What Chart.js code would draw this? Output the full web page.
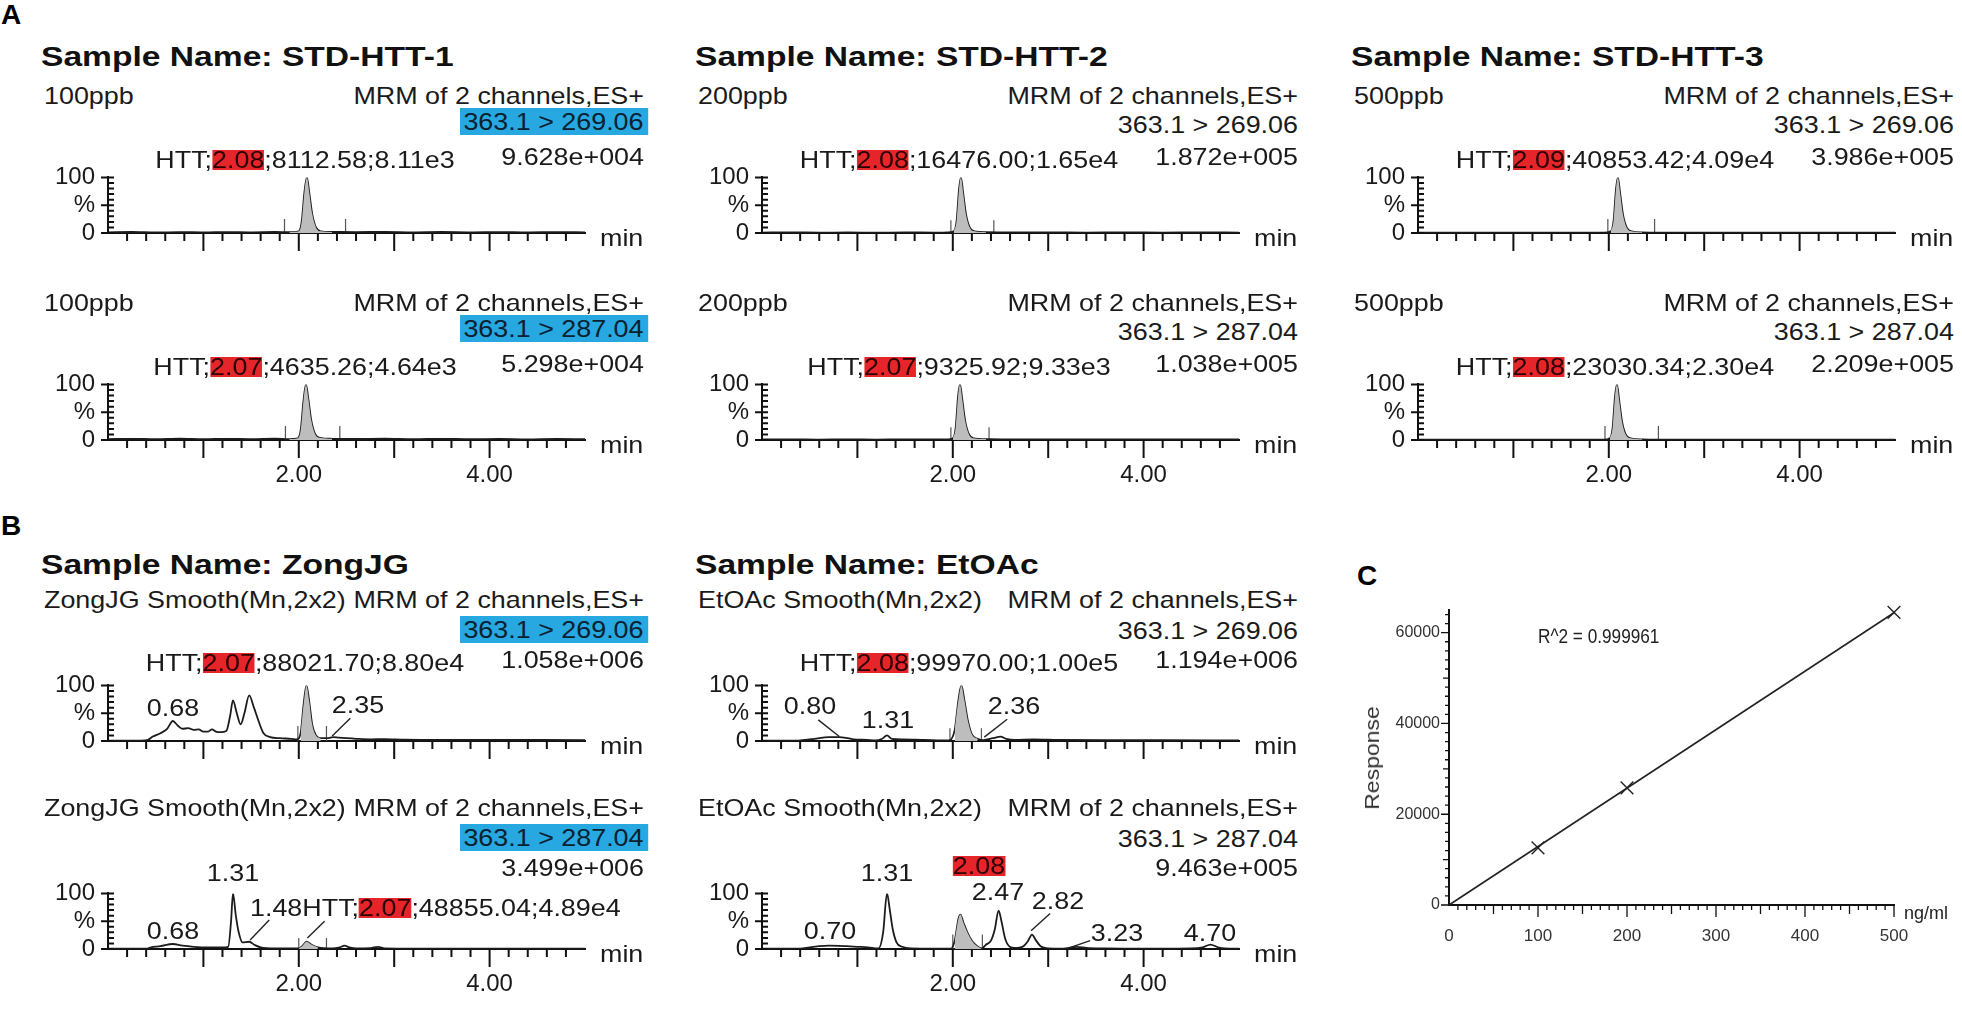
<!DOCTYPE html>
<html>
<head>
<meta charset="utf-8">
<script src="https://cdn.jsdelivr.net/npm/chart.js@4.4.1/dist/chart.umd.min.js"></script>
<style>
html,body{margin:0;padding:0;background:#fff;}
body{width:1962px;height:1016px;position:relative;overflow:hidden;font-family:"Liberation Sans",Arial,Helvetica,sans-serif;color:#1a1a1a;}
.t{position:absolute;white-space:nowrap;}
.red{background:#e6252b;color:#2b0000;display:inline-block;line-height:20px;}
.blue{background:#27a8e0;color:#0b2030;display:inline-block;line-height:27px;padding:0 4px 0 3px;}
canvas{position:absolute;}
</style>
</head>
<body>
<script>
// ---------------- DATA ----------------
const sampleTitles = ["Sample Name: STD-HTT-1","Sample Name: STD-HTT-2","Sample Name: STD-HTT-3","Sample Name: ZongJG","Sample Name: EtOAc"];
const leftHeaders = ["100ppb","200ppb","500ppb","ZongJG Smooth(Mn,2x2)","EtOAc Smooth(Mn,2x2)"];
const channelHeader = "MRM of 2 channels,ES+";
const transitions = ["363.1 > 269.06","363.1 > 287.04"];
const maxIntensity = ["9.628e+004","5.298e+004","1.872e+005","1.038e+005","3.986e+005","2.209e+005","1.058e+006","3.499e+006","1.194e+006","9.463e+005"];
const xTickLabels = [2, 4];
const yTickLabels = [[0, "0"], [50, "%"], [100, "100"]];

// HTT peak info: [retention time, area, height]
const htt_STD1_269 = ["2.08","8112.58","8.11e3"];
const htt_STD1_287 = ["2.07","4635.26","4.64e3"];
const htt_STD2_269 = ["2.08","16476.00","1.65e4"];
const htt_STD2_287 = ["2.07","9325.92","9.33e3"];
const htt_STD3_269 = ["2.09","40853.42","4.09e4"];
const htt_STD3_287 = ["2.08","23030.34","2.30e4"];
const htt_Zong_269 = ["2.07","88021.70","8.80e4"];
const htt_Zong_287 = ["2.07","48855.04","4.89e4"];
const htt_EtOAc_269 = ["2.08","99970.00","1.00e5"];
const htt_EtOAc_287 = ["2.08"];

// chromatogram traces: [time (min), relative intensity (%)]
const trace_STD1_269 = [[0,1.2],[0.25,1.8],[0.5,1.0],[0.75,1.6],[1.0,1.1],[1.25,1.7],[1.5,1.2],[1.75,1.8],[1.9,1.4],[2.0,3],[2.03,20],[2.06,75],[2.085,100],[2.11,72],[2.14,35],[2.18,10],[2.23,3],[2.35,2],[2.6,1.6],[2.9,2.0],[3.2,1.3],[3.5,1.8],[3.8,1.2],[4.1,1.7],[4.4,1.1],[4.7,1.6],[5.0,1.2]];
const trace_STD1_287 = [[0,1.5],[0.25,2.2],[0.5,1.4],[0.75,2.4],[1.0,1.5],[1.25,2.1],[1.5,1.6],[1.75,2.3],[1.9,1.6],[1.99,3],[2.02,18],[2.05,72],[2.075,100],[2.10,74],[2.13,36],[2.17,11],[2.22,4],[2.35,2.2],[2.6,1.8],[2.9,2.4],[3.2,1.5],[3.5,2.2],[3.8,1.4],[4.1,2.0],[4.4,1.3],[4.7,1.9],[5.0,1.4]];
const trace_STD2_269 = [[0,0.8],[0.3,1.1],[0.6,0.7],[0.9,1.0],[1.2,0.7],[1.5,1.0],[1.8,0.8],[1.95,0.9],[2.01,3],[2.04,22],[2.065,78],[2.085,100],[2.11,70],[2.14,32],[2.18,9],[2.23,3],[2.35,1.5],[2.6,1.0],[3.0,1.2],[3.4,0.8],[3.8,1.1],[4.2,0.8],[4.6,1.0],[5.0,0.8]];
const trace_STD2_287 = [[0,0.9],[0.3,1.3],[0.6,0.8],[0.9,1.2],[1.2,0.8],[1.5,1.2],[1.8,0.9],[1.95,1.0],[2.0,3],[2.03,22],[2.055,78],[2.075,100],[2.10,72],[2.13,34],[2.17,10],[2.22,3],[2.35,1.6],[2.6,1.1],[3.0,1.3],[3.4,0.9],[3.8,1.2],[4.2,0.9],[4.6,1.1],[5.0,0.9]];
const trace_STD3_269 = [[0,0.5],[0.4,0.7],[0.8,0.5],[1.2,0.7],[1.6,0.5],[1.95,0.6],[2.02,3],[2.05,22],[2.075,78],[2.095,100],[2.12,70],[2.15,32],[2.19,9],[2.24,3],[2.35,1.2],[2.6,0.8],[3.0,0.6],[3.5,0.7],[4.0,0.5],[4.5,0.6],[5.0,0.5]];
const trace_STD3_287 = [[0,0.5],[0.4,0.7],[0.8,0.5],[1.2,0.7],[1.6,0.5],[1.95,0.6],[2.01,3],[2.04,22],[2.065,78],[2.085,100],[2.11,70],[2.14,32],[2.18,9],[2.23,3],[2.35,1.2],[2.6,0.8],[3.0,0.6],[3.5,0.7],[4.0,0.5],[4.5,0.6],[5.0,0.5]];
const trace_Zong_269 = [[0,0.5],[0.35,0.5],[0.42,2],[0.47,8],[0.55,14],[0.62,22],[0.68,36],[0.73,28],[0.78,22],[0.84,23],[0.90,20],[0.95,21],[1.00,17],[1.05,17],[1.09,21],[1.13,17],[1.18,16],[1.24,18],[1.28,45],[1.31,73],[1.35,50],[1.39,30],[1.43,50],[1.48,82],[1.53,60],[1.58,35],[1.63,14],[1.70,7],[1.80,5],[1.92,4],[1.98,3],[2.02,15],[2.05,65],[2.08,100],[2.11,70],[2.14,30],[2.18,10],[2.23,5],[2.30,5],[2.36,7],[2.42,6],[2.50,5],[2.60,4],[2.75,3],[2.90,3.5],[3.1,2.5],[3.5,2],[4.0,2],[4.5,1.8],[5.0,1.5]];
const trace_Zong_287 = [[0,0.5],[0.40,0.5],[0.45,3],[0.55,5],[0.68,9],[0.78,6],[0.90,4],[1.05,3],[1.20,3],[1.26,4],[1.29,50],[1.31,100],[1.34,60],[1.37,30],[1.41,12],[1.48,13],[1.54,7],[1.60,3],[1.75,1],[2.00,1],[2.04,6],[2.08,13],[2.13,8],[2.20,3],[2.35,1],[2.43,3],[2.48,6],[2.53,3],[2.60,1],[2.75,1.5],[2.83,4],[2.90,1],[3.2,0.5],[4.0,0.5],[5.0,0.5]];
const trace_EtOAc_269 = [[0,0.5],[0.35,0.5],[0.45,2],[0.55,4],[0.70,7],[0.81,7],[0.90,5],[0.96,3],[1.10,2],[1.19,1],[1.26,4],[1.31,10],[1.36,4],[1.48,3],[1.70,2],[1.96,1],[2.02,20],[2.06,75],[2.09,100],[2.12,75],[2.16,35],[2.20,12],[2.26,4],[2.32,1.5],[2.42,5],[2.50,8],[2.56,4],[2.65,2],[2.85,3],[3.1,2],[3.6,1.5],[4.2,1.5],[5.0,1]];
const trace_EtOAc_287 = [[0,0.5],[0.40,0.5],[0.50,3],[0.60,5],[0.70,6],[0.89,5],[1.00,4],[1.11,3],[1.22,1],[1.27,30],[1.31,100],[1.34,70],[1.37,36],[1.41,12],[1.47,4],[1.56,1],[1.80,0.5],[1.98,0.5],[2.02,15],[2.06,55],[2.08,62],[2.11,48],[2.15,31],[2.20,15],[2.25,6],[2.30,1],[2.35,8],[2.40,15],[2.44,35],[2.48,69],[2.51,50],[2.55,18],[2.61,3],[2.68,2],[2.74,5],[2.79,15],[2.83,26],[2.87,16],[2.92,5],[3.0,1],[3.14,0.5],[3.22,2],[3.30,4],[3.40,2],[3.60,1],[4.0,0.5],[4.5,1],[4.62,3],[4.70,8],[4.78,3],[4.85,1],[5.0,0.5]];

// integration limit markers: [start, end, height %]
const marks_STD1_269 = [1.85, 2.49, 25];
const marks_STD1_287 = [1.86, 2.43, 25];
const marks_STD2_269 = [1.98, 2.43, 23];
const marks_STD2_287 = [1.98, 2.38, 23];
const marks_STD3_269 = [1.99, 2.48, 25];
const marks_STD3_287 = [1.96, 2.52, 25];
const marks_Zong_269 = [1.99, 2.29, 27];
const marks_Zong_287 = [2.00, 2.29, 20];
const marks_EtOAc_269 = [1.97, 2.30, 23];
const marks_EtOAc_287 = [2.00, 2.31, 26];

// peak labels: [time, level %, text]
const peaks_Zong_269 = [[0.68, 60, "0.68"], [2.62, 64, "2.35"]];
const peaks_Zong_287 = [[1.31, 137, "1.31"], [0.68, 33, "0.68"]];
const peaks_EtOAc_269 = [[0.50, 63, "0.80"], [1.32, 37, "1.31"], [2.64, 63, "2.36"]];
const peaks_EtOAc_287 = [[0.71, 33, "0.70"], [1.31, 137, "1.31"], [2.47, 102, "2.47"], [3.10, 86, "2.82"], [3.72, 29, "3.23"], [4.70, 29, "4.70"]];
// leader lines: [t1, v1, t2, v2]
const leaders_Zong_269 = [[2.54, 41, 2.35, 9]];
const leaders_Zong_287 = [[1.69, 52, 1.49, 16], [2.27, 50, 2.09, 20]];
const leaders_EtOAc_269 = [[0.59, 38, 0.81, 8], [2.57, 39, 2.33, 7]];
const leaders_EtOAc_287 = [[3.02, 64, 2.82, 33], [3.44, 15, 3.22, 2]];

// calibration curve (C)
const calConc = [100, 200, 500];
const calResponse = [12600, 25800, 64500];
const fitConc = [0, 500];
const fitResponse = [0, 64400];
const rSquaredText = "R^2 = 0.999961";
const calYTicks = [0, 20000, 40000, 60000];
const calXTicks = [0, 100, 200, 300, 400, 500];

// ---------------- LAYOUT / HELPERS ----------------
Chart.defaults.font.family = '"Liberation Sans", Arial, Helvetica, sans-serif';
Chart.defaults.color = '#1a1a1a';
const SX = 1.12;

function txt(segments, x, y, opt) {
  opt = opt || {};
  const d = document.createElement('div');
  d.className = 't';
  const size = opt.size || 24, lh = opt.lh || 28;
  d.style.fontSize = size + 'px';
  d.style.lineHeight = lh + 'px';
  if (opt.bold) d.style.fontWeight = 'bold';
  if (opt.color) d.style.color = opt.color;
  if (typeof segments === 'string') segments = [{t: segments}];
  segments.forEach(s => {
    const sp = document.createElement('span');
    sp.textContent = s.t;
    if (s.cls) sp.className = s.cls;
    d.appendChild(sp);
  });
  d.style.left = x + 'px';
  d.style.top = (y - lh / 2) + 'px';
  const sx = opt.sx || SX;
  const align = opt.align || 'left';
  if (opt.rotate) {
    d.style.transformOrigin = '50% 50%';
    d.style.transform = `translate(-50%,0) rotate(-90deg) scaleX(${sx})`;
  } else if (align === 'left') {
    d.style.transformOrigin = '0 50%';
    d.style.transform = `scaleX(${sx})`;
  } else if (align === 'right') {
    d.style.transformOrigin = '100% 50%';
    d.style.transform = `translateX(-100%) scaleX(${sx})`;
  } else {
    d.style.transformOrigin = '50% 50%';
    d.style.transform = `translateX(-50%) scaleX(${sx})`;
  }
  document.body.appendChild(d);
  return d;
}

// axis tick-mark plugin (ticks given in axis units, drawn through the chart's scales)
function makeTickPlugin(xTicks, yTicks, lw) {
  return {
    id: 'customTicks',
    afterDraw(chart) {
      const ctx = chart.ctx, xs = chart.scales.x, ys = chart.scales.y;
      const y0 = ys.getPixelForValue(0), x0 = xs.getPixelForValue(0);
      ctx.save();
      ctx.strokeStyle = '#111';
      ctx.lineWidth = lw;
      ctx.beginPath();
      xTicks.forEach(([v, len]) => {
        const px = xs.getPixelForValue(v);
        ctx.moveTo(px, y0); ctx.lineTo(px, y0 + len);
      });
      yTicks.forEach(([v, len]) => {
        const py = ys.getPixelForValue(v);
        ctx.moveTo(x0, py); ctx.lineTo(x0 + len, py);
      });
      ctx.stroke();
      ctx.restore();
    }
  };
}

const colX = [0, 654, 1310];
const rowY = [0, 207, 508, 716];
const rowText = {
  A: {l1: 96, l2blue: 121.5, l2plain: 125, l3: 157, httV: 131},
  B: {l1: 92, l2blue: 121.5, l2plain: 123, l3: 152, httV: 140}
};

function toPts(arr) { return arr.map(([x, y]) => ({x, y})); }

function chromatogram(p) {
  const dx = colX[p.col], dy = rowY[p.row];
  const rt = rowText[p.row < 2 ? 'A' : 'B'];
  const L = dx + 30, T = dy + 150, W = 600, H = 140;
  const cv = document.createElement('canvas');
  cv.width = W; cv.height = H;
  cv.style.left = L + 'px'; cv.style.top = T + 'px';
  cv.style.width = W + 'px'; cv.style.height = H + 'px';
  document.body.appendChild(cv);

  const pts = toPts(p.trace);
  const fillPts = pts.filter(q => q.x >= p.marks[0] && q.x <= p.marks[1]);
  const ds = [
    {data: fillPts, showLine: true, borderWidth: 0, borderColor: 'rgba(0,0,0,0)', backgroundColor: '#bdbdbd', fill: 'origin', pointRadius: 0, cubicInterpolationMode: 'monotone'},
    {data: pts, showLine: true, borderColor: '#1c1c1c', borderWidth: 1.8, fill: false, pointRadius: 0, cubicInterpolationMode: 'monotone'}
  ];
  [p.marks[0], p.marks[1]].forEach(m => ds.push({data: [{x: m, y: 0}, {x: m, y: p.marks[2]}], showLine: true, borderColor: '#555', borderWidth: 1.2, pointRadius: 0, fill: false}));
  (p.leaders || []).forEach(([a, b, c, d]) => ds.push({data: [{x: a, y: b}, {x: c, y: d}], showLine: true, borderColor: '#222', borderWidth: 1.4, pointRadius: 0, fill: false}));

  const showX = (p.row === 1 || p.row === 3);
  const xTicks = [], yTicks = [];
  for (let i = 1; i <= 24; i++) xTicks.push([i / 5, i % 5 === 0 ? 18 : 8]);
  for (let i = 0; i <= 10; i++) yTicks.push([i * 10, 6]);
  [0, 50, 100].forEach(v => yTicks.push([v, -7]));

  const chart = new Chart(cv, {
    type: 'scatter',
    data: {datasets: ds},
    options: {
      responsive: false, animation: false,
      layout: {padding: {left: 0, top: 25, right: 45, bottom: 0}},
      plugins: {legend: {display: false}, tooltip: {enabled: false}},
      scales: {
        x: {type: 'linear', min: 0, max: 5,
            grid: {display: false, drawTicks: false},
            border: {display: true, color: '#111', width: 2},
            afterBuildTicks: s => { s.ticks = xTickLabels.map(v => ({value: v})); },
            ticks: {autoSkip: false, maxRotation: 0, padding: 21, font: {size: 24}, color: '#1a1a1a',
                    callback: v => showX ? v.toFixed(2) : ''},
            afterFit: s => { s.height = 57; }},
        y: {type: 'linear', min: 0, max: 100,
            grid: {display: false, drawTicks: false},
            border: {display: true, color: '#111', width: 2},
            afterBuildTicks: s => { s.ticks = yTickLabels.map(([v]) => ({value: v})); },
            ticks: {autoSkip: false, padding: 13, font: {size: 24}, color: '#1a1a1a',
                    callback: v => { const f = yTickLabels.find(([k]) => k === v); return f ? f[1] : ''; }},
            afterFit: s => { s.width = 78; }}
      }
    },
    plugins: [makeTickPlugin(xTicks, yTicks, 2)]
  });

  const xs = chart.scales.x, ys = chart.scales.y;
  const X = t => L + xs.getPixelForValue(t);
  const Y = v => T + ys.getPixelForValue(v);

  // headers
  if (p.title) txt(p.title, dx + 41, dy + 57, {size: 28, bold: true, sx: 1.2, lh: 32, color: '#111'});
  txt(p.left, dx + 44, dy + rt.l1);
  txt(channelHeader, dx + 644, dy + rt.l1, {align: 'right'});
  if (p.blue) txt([{t: p.trans, cls: 'blue'}], dx + 648, dy + rt.l2blue, {align: 'right'});
  else txt(p.trans, dx + 644, dy + rt.l2plain, {align: 'right'});
  txt(p.max, dx + 644, dy + rt.l3, {align: 'right'});
  txt('min', L + xs.right + 15, Y(0) + 5);

  // HTT annotation
  if (p.httMode === 'center') {
    txt([{t: 'HTT;'}, {t: p.htt[0], cls: 'red'}, {t: ';' + p.htt[1] + ';' + p.htt[2]}], X(2.06), Y(p.row < 2 ? rowText.A.httV : rowText.B.httV), {align: 'center'});
  } else if (p.httMode === 'left') {
    txt([{t: '1.48HTT;'}, {t: p.htt[0], cls: 'red'}, {t: ';' + p.htt[1] + ';' + p.htt[2]}], X(1.49), Y(74), {align: 'left'});
  } else if (p.httMode === 'rt') {
    txt([{t: p.htt[0], cls: 'red'}], X(2.27), Y(150), {align: 'center'});
  }
  (p.peaks || []).forEach(([t, v, s]) => txt(s, X(t), Y(v), {align: 'center'}));
  return chart;
}

// Section letters
txt('A', 1, 15, {size: 28, bold: true, sx: 1, lh: 32, color: '#000'});
txt('B', 1, 526, {size: 28, bold: true, sx: 1, lh: 32, color: '#000'});
txt('C', 1357, 576, {size: 28, bold: true, sx: 1, lh: 32, color: '#000'});

const panels = [
  {col: 0, row: 0, title: sampleTitles[0], left: leftHeaders[0], trans: transitions[0], blue: true, max: maxIntensity[0], trace: trace_STD1_269, marks: marks_STD1_269, htt: htt_STD1_269, httMode: 'center'},
  {col: 0, row: 1, left: leftHeaders[0], trans: transitions[1], blue: true, max: maxIntensity[1], trace: trace_STD1_287, marks: marks_STD1_287, htt: htt_STD1_287, httMode: 'center'},
  {col: 1, row: 0, title: sampleTitles[1], left: leftHeaders[1], trans: transitions[0], blue: false, max: maxIntensity[2], trace: trace_STD2_269, marks: marks_STD2_269, htt: htt_STD2_269, httMode: 'center'},
  {col: 1, row: 1, left: leftHeaders[1], trans: transitions[1], blue: false, max: maxIntensity[3], trace: trace_STD2_287, marks: marks_STD2_287, htt: htt_STD2_287, httMode: 'center'},
  {col: 2, row: 0, title: sampleTitles[2], left: leftHeaders[2], trans: transitions[0], blue: false, max: maxIntensity[4], trace: trace_STD3_269, marks: marks_STD3_269, htt: htt_STD3_269, httMode: 'center'},
  {col: 2, row: 1, left: leftHeaders[2], trans: transitions[1], blue: false, max: maxIntensity[5], trace: trace_STD3_287, marks: marks_STD3_287, htt: htt_STD3_287, httMode: 'center'},
  {col: 0, row: 2, title: sampleTitles[3], left: leftHeaders[3], trans: transitions[0], blue: true, max: maxIntensity[6], trace: trace_Zong_269, marks: marks_Zong_269, htt: htt_Zong_269, httMode: 'center', peaks: peaks_Zong_269, leaders: leaders_Zong_269},
  {col: 0, row: 3, left: leftHeaders[3], trans: transitions[1], blue: true, max: maxIntensity[7], trace: trace_Zong_287, marks: marks_Zong_287, htt: htt_Zong_287, httMode: 'left', peaks: peaks_Zong_287, leaders: leaders_Zong_287},
  {col: 1, row: 2, title: sampleTitles[4], left: leftHeaders[4], trans: transitions[0], blue: false, max: maxIntensity[8], trace: trace_EtOAc_269, marks: marks_EtOAc_269, htt: htt_EtOAc_269, httMode: 'center', peaks: peaks_EtOAc_269, leaders: leaders_EtOAc_269},
  {col: 1, row: 3, left: leftHeaders[4], trans: transitions[1], blue: false, max: maxIntensity[9], trace: trace_EtOAc_287, marks: marks_EtOAc_287, htt: htt_EtOAc_287, httMode: 'rt', peaks: peaks_EtOAc_287, leaders: leaders_EtOAc_287}
];
panels.forEach(chromatogram);

// ---------------- Calibration curve ----------------
(function () {
  const L = 1340, T = 590, W = 620, H = 370;
  const cv = document.createElement('canvas');
  cv.width = W; cv.height = H;
  cv.style.left = L + 'px'; cv.style.top = T + 'px';
  cv.style.width = W + 'px'; cv.style.height = H + 'px';
  document.body.appendChild(cv);
  const xT = [], yT = [];
  for (let v = 10; v <= 500; v += 10) xT.push([v, v % 100 === 0 ? 12 : (v % 50 === 0 ? 9 : 5)]);
  for (let v = 2000; v <= 64000; v += 2000) yT.push([v, v % 20000 === 0 ? -8 : (v % 10000 === 0 ? -6 : -4)]);
  yT.push([0, -8]);
  const chart = new Chart(cv, {
    type: 'scatter',
    data: {datasets: [
      {data: fitConc.map((x, i) => ({x, y: fitResponse[i]})), showLine: true, borderColor: '#222', borderWidth: 1.6, pointRadius: 0, fill: false, clip: false},
      {data: calConc.map((x, i) => ({x, y: calResponse[i]})), showLine: false, pointStyle: 'crossRot', pointRadius: 9, borderColor: '#222', borderWidth: 1.4, backgroundColor: 'rgba(0,0,0,0)', clip: false}
    ]},
    options: {
      responsive: false, animation: false,
      layout: {padding: {left: 0, top: 20, right: 66, bottom: 0}},
      plugins: {legend: {display: false}, tooltip: {enabled: false}},
      scales: {
        x: {type: 'linear', min: 0, max: 500,
            grid: {display: false, drawTicks: false},
            border: {display: true, color: '#111', width: 2},
            afterBuildTicks: s => { s.ticks = calXTicks.map(v => ({value: v})); },
            ticks: {autoSkip: false, maxRotation: 0, padding: 21, font: {size: 17}, color: '#333',
                    callback: v => String(v)},
            afterFit: s => { s.height = 55; }},
        y: {type: 'linear', min: 0, max: 65000,
            grid: {display: false, drawTicks: false},
            border: {display: true, color: '#111', width: 2},
            afterBuildTicks: s => { s.ticks = calYTicks.map(v => ({value: v})); },
            ticks: {autoSkip: false, padding: 9, font: {size: 16}, color: '#333',
                    callback: v => String(v)},
            afterFit: s => { s.width = 109; }}
      }
    },
    plugins: [makeTickPlugin(xT, yT, 1.3)]
  });
  const xs = chart.scales.x, ys = chart.scales.y;
  txt(rSquaredText, L + xs.getPixelForValue(100), T + ys.getPixelForValue(59300), {size: 20, sx: 0.86, color: '#222'});
  txt('ng/ml', L + xs.right + 10, T + ys.getPixelForValue(0) + 8, {size: 18, sx: 1, color: '#222'});
  txt('Response', 1372, 758, {size: 20, sx: 1.15, rotate: true, color: '#333'});
})();
</script>
</body>
</html>
